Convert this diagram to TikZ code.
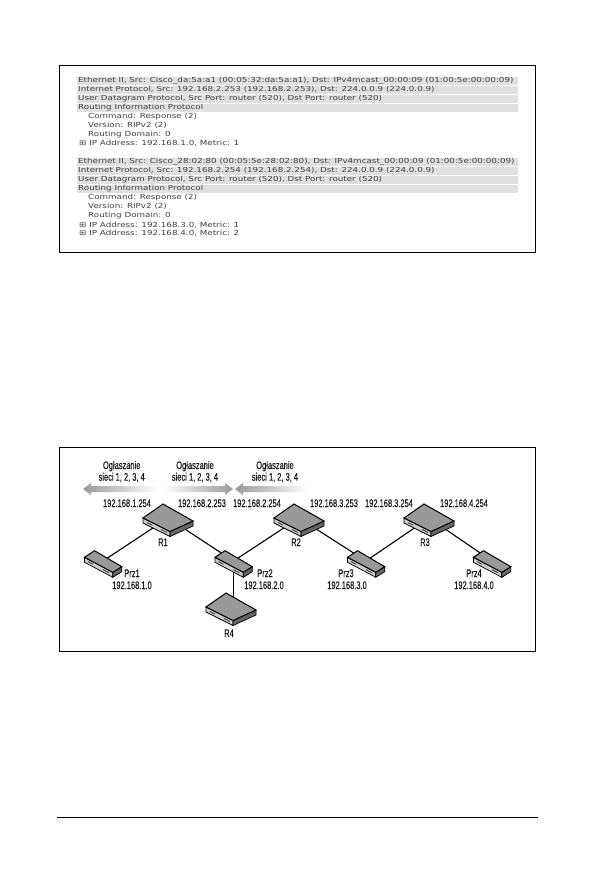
\documentclass[tikz,border=0pt]{standalone}
\usepackage{fontspec}
\setmainfont[FakeStretch=1.25]{DejaVu Sans}
\newfontfamily\netfont[FakeStretch=0.68,FakeBold=0.3]{Liberation Sans}
\usetikzlibrary{shadings}
\tikzset{
  dumpline/.style={anchor=west,inner sep=0pt,text height=5.5pt,text depth=1.5pt,font=\fontsize{7}{8}\selectfont,text=black!75},
  netlabel/.style={inner sep=0pt,text height=8pt,text depth=2pt,font=\netfont\fontsize{11}{12}\selectfont,text=black!90},
  frame/.style={draw,line width=0.9pt},
  link/.style={line width=1.1pt},
  routerdev/.pic={
    \draw[line width=0.7pt,fill=black!20] (-25,0) -- (-25,5) -- (2,18.5) -- (2,13.5) -- cycle;
    \draw[line width=0.7pt,fill=black!60] (2,13.5) -- (2,18.5) -- (25,8) -- (25,3) -- cycle;
    \draw[line width=1pt,fill=black!40] (-5,-14) -- (25,3) -- (2,13.5) -- (-25,0) -- cycle;
    \draw[line width=1pt,black!70] (-21,4.5) -- (-16,7) (-7,11.5) -- (-1,14.5);
  },
  hubdev/.pic={
    \draw[line width=0.7pt,fill=black!20] (-18.5,-3.7) -- (-18.5,1.3) -- (9.8,16.3) -- (9.8,11.3) -- cycle;
    \draw[line width=0.7pt,fill=black!60] (9.8,11.3) -- (9.8,16.3) -- (18.8,10.7) -- (18.8,5.7) -- cycle;
    \draw[line width=1pt,fill=black!40] (-8.5,-10.3) -- (18.8,5.7) -- (9.8,11.3) -- (-18.5,-3.7) -- cycle;
    \draw[line width=1pt,black!70] (-15,0.6) -- (-10,3.3) (0,8.6) -- (6,11.8);
  },
  fadeleft/.style={left color=black!40,right color=white,draw=none},
  faderight/.style={left color=white,right color=black!40,draw=none},
}
\begin{document}
\begin{tikzpicture}[x=1pt,y=-1pt]
  \useasboundingbox (0,0) rectangle (596,885);
  % capture box
  \draw[frame] (59.5,65) rectangle (535.7,252);
  % grey header bars
  \foreach \y in {77.3,86.3,95.3,104.3,158.3,167.3,176.3,185.3}
    \fill[black!12] (77,\y) rectangle (518,\y+8.2);
  % first packet
  \foreach \y/\x/\txt [count=\i] in {
    81/78/{Ethernet II, Src: Cisco\_da:5a:a1 (00:05:32:da:5a:a1), Dst: IPv4mcast\_00:00:09 (01:00:5e:00:00:09)},
    90/78/{Internet Protocol, Src: 192.168.2.253 (192.168.2.253), Dst: 224.0.0.9 (224.0.0.9)},
    99/78/{User Datagram Protocol, Src Port: router (520), Dst Port: router (520)},
    108/78/{Routing Information Protocol},
    117/88/{Command: Response (2)},
    126/88/{Version: RIPv2 (2)},
    135/88/{Routing Domain: 0},
    144/79/{⊞ IP Address: 192.168.1.0, Metric: 1}}
    \node[dumpline] (first\i) at (\x,\y) {\txt};
  % second packet
  \foreach \y/\x/\txt [count=\i] in {
    162/78/{Ethernet II, Src: Cisco\_28:02:80 (00:05:5e:28:02:80), Dst: IPv4mcast\_00:00:09 (01:00:5e:00:00:09)},
    171/78/{Internet Protocol, Src: 192.168.2.254 (192.168.2.254), Dst: 224.0.0.9 (224.0.0.9)},
    180/78/{User Datagram Protocol, Src Port: router (520), Dst Port: router (520)},
    189/78/{Routing Information Protocol},
    198/88/{Command: Response (2)},
    207/88/{Version: RIPv2 (2)},
    216/88/{Routing Domain: 0},
    225/79/{⊞ IP Address: 192.168.3.0, Metric: 1},
    234/79/{⊞ IP Address: 192.168.4.0, Metric: 2}}
    \node[dumpline] (second\i) at (\x,\y) {\txt};
  % network box
  \draw[frame] (59.5,447) rectangle (535.7,651);
  % device centres
  \coordinate (R1) at (168,518);
  \coordinate (R2) at (299,518);
  \coordinate (R3) at (429,518);
  \coordinate (R4) at (231,607);
  \coordinate (Prz1) at (103,561);
  \coordinate (Prz2) at (233.5,561);
  \coordinate (Prz3) at (366,561);
  \coordinate (Prz4) at (492,561);
  % links
  \draw[link] (R1) -- (Prz1);
  \draw[link] (R1) -- (Prz2);
  \draw[link] (Prz2) -- (R2);
  \draw[link] (R2) -- (Prz3);
  \draw[link] (Prz3) -- (R3);
  \draw[link] (R3) -- (Prz4);
  \draw[line width=1.5pt] (Prz2) -- (Prz2 |- R4);
  % devices
  \foreach \dev in {R1,R2,R3,R4}
    \pic at (\dev) {routerdev};
  \foreach \dev in {Prz1,Prz2,Prz3,Prz4}
    \pic at (\dev) {hubdev};
  % advertisement arrows
  \shade[fadeleft] (83,489) -- (91,483) -- (91,486) -- (157,486) -- (157,492) -- (91,492) -- (91,495) -- cycle;
  \shade[faderight] (163,486) -- (225,486) -- (225,483) -- (233,489) -- (225,495) -- (225,492) -- (163,492) -- cycle;
  \shade[fadeleft] (235,489) -- (243,483) -- (243,486) -- (308,486) -- (308,492) -- (243,492) -- (243,495) -- cycle;
  % advertisement labels
  \foreach \x [count=\i] in {121.7,195,275} {
    \node[netlabel] (ad\i) at (\x,466) {Ogłaszanie};
    \node[netlabel] (net\i) at (\x,477.7) {sieci 1, 2, 3, 4};
  }
  % interface addresses
  \foreach \x/\txt [count=\i] in {127/192.168.1.254,202/192.168.2.253,257/192.168.2.254,334/192.168.3.253,389/192.168.3.254,464/192.168.4.254}
    \node[netlabel] (if\i) at (\x,504) {\txt};
  % device names
  \foreach \x/\y/\txt in {163/543/R1,296/543/R2,425/543/R3,229/634/R4,132/574/Prz1,265/574/Prz2,346/574/Prz3,474/574/Prz4}
    \node[netlabel] (name\txt) at (\x,\y) {\txt};
  % network addresses
  \foreach \x/\txt [count=\i] in {132/192.168.1.0,264/192.168.2.0,347/192.168.3.0,474/192.168.4.0}
    \node[netlabel] (lan\i) at (\x,586) {\txt};
  % rule at the foot
  \coordinate (footl) at (57,817);
  \coordinate (footr) at (538,817);
  \draw[line width=0.9pt] (footl) -- (footr);
\end{tikzpicture}
\end{document}
